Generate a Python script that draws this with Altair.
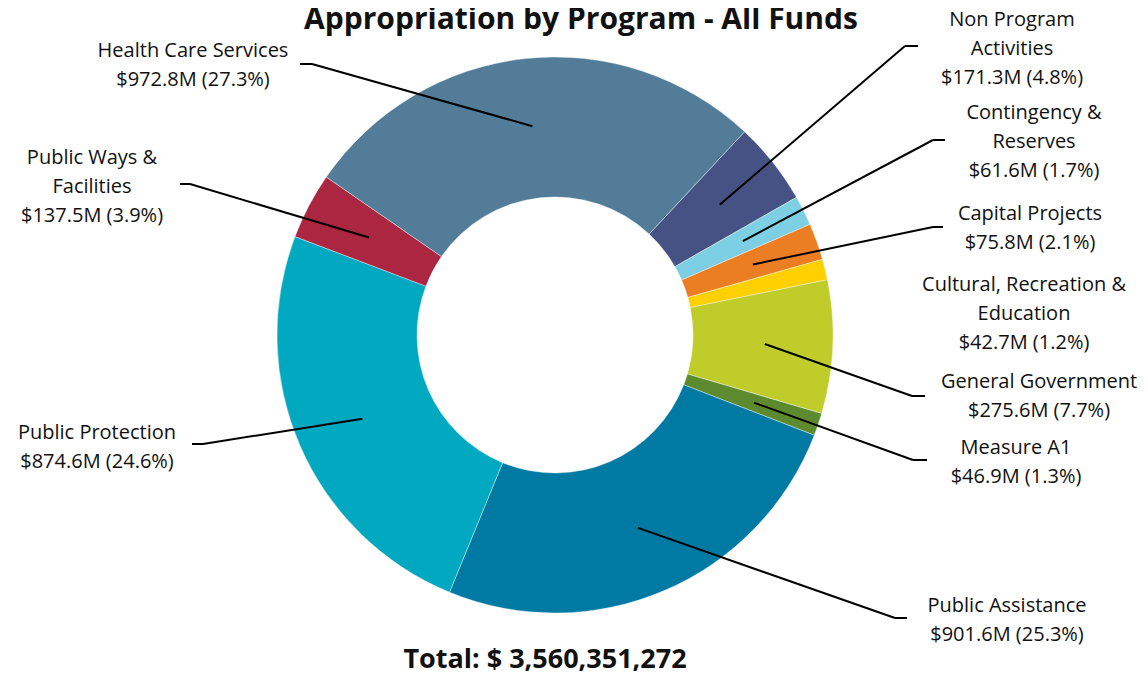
import math
import altair as alt
import pandas as pd

# ---------------- data ----------------
categories = [
    "Non Program Activities",
    "Contingency & Reserves",
    "Capital Projects",
    "Cultural, Recreation & Education",
    "General Government",
    "Measure A1",
    "Public Assistance",
    "Public Protection",
    "Public Ways & Facilities",
    "Health Care Services",
]
values_m = [171.3, 61.6, 75.8, 42.7, 275.6, 46.9, 901.6, 874.6, 137.5, 972.8]
pct = [4.8, 1.7, 2.1, 1.2, 7.7, 1.3, 25.3, 24.6, 3.9, 27.3]
label_names = [
    "Non Program\nActivities",
    "Contingency &\nReserves",
    "Capital Projects",
    "Cultural, Recreation &\nEducation",
    "General Government",
    "Measure A1",
    "Public Assistance",
    "Public Protection",
    "Public Ways &\nFacilities",
    "Health Care Services",
]
total_text = "Total: $ 3,560,351,272"
title_text = "Appropriation by Program - All Funds"

# ---------------- styles / layout ----------------
colors = ["#465283", "#7DD0E3", "#EB7E22", "#FFD000", "#BFCC2A",
          "#5D8A2E", "#0079A3", "#00A9BF", "#AB2640", "#527C98"]
W, H = 1132, 666
OFF = 8                    # page margin
CX, CY = 555 - OFF, 335 - OFF
R_IN, R_OUT, R_LEAD = 138, 278, 210
START = math.radians(43)
FONT = "Open Sans"

# label layout in page coords: text centre x, first-line centre y,
# elbow x, elbow y, end x of short horizontal tick (None = no leader)
layout = {
    "Non Program Activities":            (1012, 20, 905, 46, 918),
    "Contingency & Reserves":            (1034, 113, 933, 140, 945),
    "Capital Projects":                  (1030, 214, 933, 227, 943),
    "Cultural, Recreation & Education":  (1024, 285, None, None, None),
    "General Government":                (1039, 382, 912, 396, 925),
    "Measure A1":                        (1016, 448, 913, 460, 927),
    "Public Assistance":                 (1007, 606, 895, 618, 907),
    "Public Protection":                 (97, 433, 203, 444, 192),
    "Public Ways & Facilities":          (92, 158, 190, 184, 180),
    "Health Care Services":              (193, 51, 312, 64, 300),
}

rows = []
for i, (c, v, p, n) in enumerate(zip(categories, values_m, pct, label_names)):
    tx, ty, ex, ey, hx = layout[c]
    rows.append({
        "idx": i, "category": c, "value": v,
        "label": f"{n}\n${v:.1f}M ({p:.1f}%)",
        "tx": tx - OFF, "ty": ty - OFF,
        "ex": None if ex is None else ex - OFF,
        "ey": None if ey is None else ey - OFF,
        "hx": None if hx is None else hx - OFF,
        "lead": ex is not None,
    })
df = pd.DataFrame(rows)

base = alt.Chart(df)

arcs = base.mark_arc(innerRadius=R_IN, outerRadius=R_OUT, stroke="white",
                     strokeWidth=0.4).encode(
    theta=alt.Theta("value:Q", stack=True,
                    scale=alt.Scale(range=[START, START + 2 * math.pi])),
    color=alt.Color("category:N", scale=alt.Scale(domain=categories, range=colors),
                    legend=None),
    order=alt.Order("idx:Q"),
    x=alt.value(CX), y=alt.value(CY),
)

geo = base.transform_joinaggregate(
    tot="sum(value)"
).transform_window(
    cum="sum(value)", sort=[alt.SortField("idx")], frame=[None, 0]
).transform_calculate(
    mid=f"{START} + 2*PI*(datum.cum - datum.value/2)/datum.tot"
).transform_calculate(
    sx=f"{CX} + {R_LEAD}*sin(datum.mid)",
    sy=f"{CY} - {R_LEAD}*cos(datum.mid)",
).transform_filter("datum.lead")

lead1 = geo.mark_rule(color="black", strokeWidth=2).encode(
    x=alt.X("sx:Q", scale=None, axis=None),
    y=alt.Y("sy:Q", scale=None, axis=None),
    x2="ex:Q", y2="ey:Q",
)
lead2 = geo.mark_rule(color="black", strokeWidth=2).encode(
    x=alt.X("ex:Q", scale=None, axis=None),
    y=alt.Y("ey:Q", scale=None, axis=None),
    x2="hx:Q", y2="ey:Q",
)

labels = base.mark_text(font=FONT, fontSize=20, lineBreak="\n", lineHeight=29,
                        align="center", baseline="middle", color="#111111").encode(
    x=alt.X("tx:Q", scale=None, axis=None),
    y=alt.Y("ty:Q", scale=None, axis=None),
    text="label:N",
)

title = alt.Chart(pd.DataFrame({"t": [title_text]})).mark_text(
    font=FONT, fontSize=30, fontWeight="bold", align="center",
    baseline="alphabetic", color="#111111").encode(
    x=alt.value(581 - OFF), y=alt.value(29 - OFF), text="t:N")

total = alt.Chart(pd.DataFrame({"t": [total_text]})).mark_text(
    font=FONT, fontSize=27, fontWeight="bold", align="center",
    baseline="alphabetic", color="#111111").encode(
    x=alt.value(545 - OFF), y=alt.value(668 - OFF), text="t:N")

chart = alt.layer(arcs, lead1, lead2, labels, title, total).properties(
    width=W, height=H, padding=0,
    autosize=alt.AutoSizeParams(type="none"),
).configure_view(stroke=None)

chart.save("out.html", embed_options={"renderer": "svg", "actions": False})
